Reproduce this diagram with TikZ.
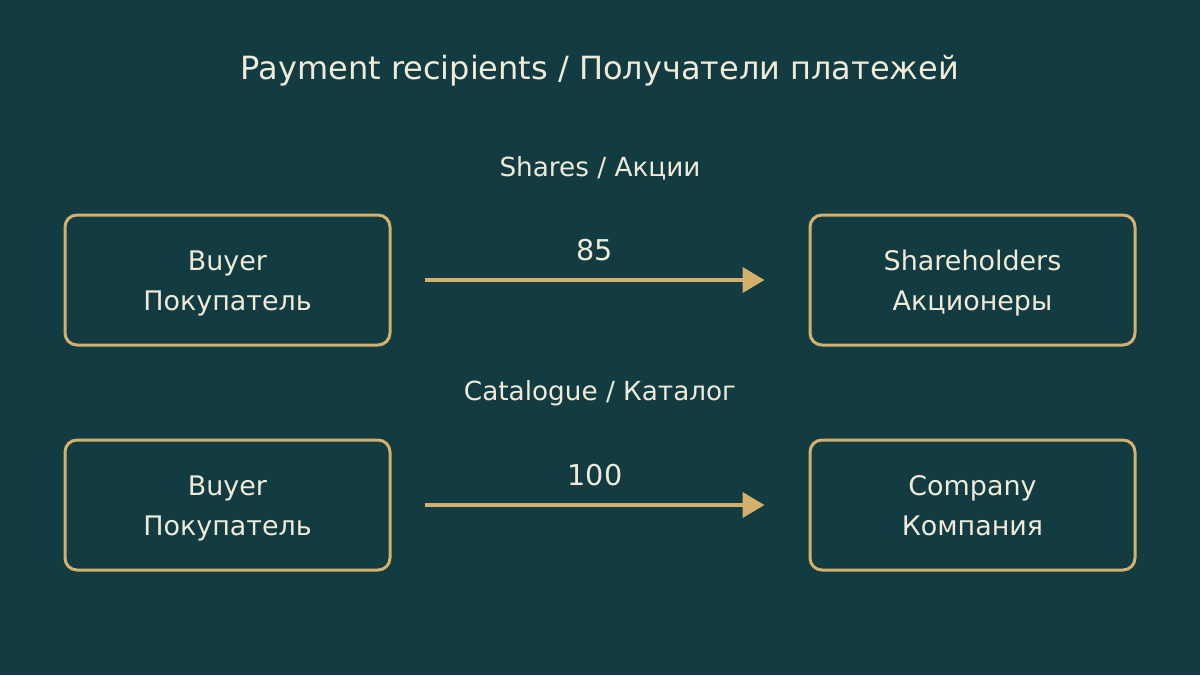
\documentclass[tikz,border=0pt]{standalone}
\usepackage{fontspec}
\setmainfont{DejaVu Sans}
\usetikzlibrary{arrows.meta}
\definecolor{bg}{HTML}{133C42}
\definecolor{gold}{HTML}{D4B06A}
\definecolor{txt}{HTML}{EFEBD8}
\begin{document}
\begin{tikzpicture}[x=0.75pt,y=-0.75pt,
  box/.style={draw=gold, line width=2.25pt, rounded corners=9pt, minimum width=243.75pt, minimum height=97.5pt},
  boxtext/.style={text=txt, align=center, font=\fontsize{20.2}{30}\selectfont, yshift=-2pt},
  lbl/.style={text=txt, font=\fontsize{19.7}{24}\selectfont},
  num/.style={text=txt, font=\fontsize{21.5}{25}\selectfont},
  flow/.style={draw=gold, line width=3pt, -{Triangle[length=16.5pt,width=18.75pt]}, shorten <=24.75pt, shorten >=33pt}]
\fill[bg] (0,0) rectangle (1200,675);
\useasboundingbox (0,0) rectangle (1200,675);
\node[text=txt, font=\fontsize{24}{29}\selectfont] (title) at (600,71) {Payment recipients / Получатели платежей};
\node[lbl] (l1) at (600,168) {Shares / Акции};
\node[box, label={[boxtext]center:\strut Buyer\\\strut Покупатель}] (b1) at (227.5,280) {};
\node[box, label={[boxtext]center:\strut Shareholders\\\strut Акционеры}] (s1) at (972.5,280) {};
\draw[flow] (b1) -- (s1);
\node[num] (n1) at (595,250) {85};
\node[lbl] (l2) at (600,393) {Catalogue / Каталог};
\node[box, label={[boxtext]center:\strut Buyer\\\strut Покупатель}] (b2) at (227.5,505) {};
\node[box, label={[boxtext]center:\strut Company\\\strut Компания}] (c2) at (972.5,505) {};
\draw[flow] (b2) -- (c2);
\node[num] (n2) at (595,475) {100};
\end{tikzpicture}
\end{document}
